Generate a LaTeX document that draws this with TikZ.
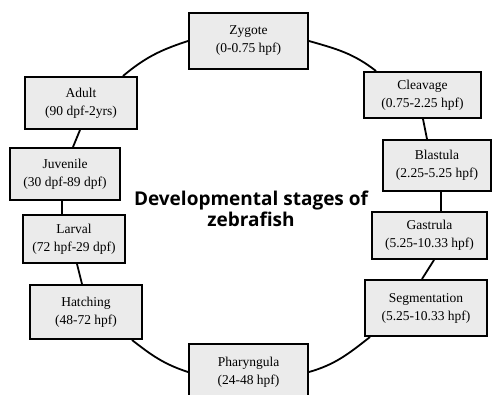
\documentclass[tikz,border=0pt]{standalone}
\usepackage{fontspec}
\setmainfont{Liberation Serif}
\newfontfamily\titlefont{Open Sans}
\begin{document}
\begin{tikzpicture}[x=1pt,y=1pt,
  stage/.style={draw=black, line width=2pt, fill=black!8, inner sep=0pt,
    align=center, font=\fontsize{13.5}{18}\selectfont},
  link/.style={draw=black, line width=1.8pt}]
\useasboundingbox (0,0) rectangle (497,394);
\clip (0,0) rectangle (497,394);
\fill[white] (0,0) rectangle (497,394);
% stages
\node[stage, minimum width=119pt, minimum height=56pt] (zyg) at (248.5,353) {Zygote\\(0-0.75 hpf)};
\node[stage, minimum width=117pt, minimum height=46pt] (cle) at (422.5,299) {Cleavage\\(0.75-2.25 hpf)};
\node[stage, minimum width=108pt, minimum height=51pt] (bla) at (437,228.5) {Blastula\\(2.25-5.25 hpf)};
\node[stage, minimum width=115pt, minimum height=47pt] (gas) at (429.5,158.5) {Gastrula\\(5.25-10.33 hpf)};
\node[stage, minimum width=122pt, minimum height=56pt] (seg) at (426,86) {Segmentation\\(5.25-10.33 hpf)};
\node[stage, minimum width=119pt, minimum height=56pt] (pha) at (248.5,22) {Pharyngula\\(24-48 hpf)};
\node[stage, minimum width=112pt, minimum height=54pt] (hat) at (86,82) {Hatching\\(48-72 hpf)};
\node[stage, minimum width=102pt, minimum height=48pt] (lar) at (74,155) {Larval\\(72 hpf-29 dpf)};
\node[stage, minimum width=110pt, minimum height=52pt] (juv) at (65,220) {Juvenile\\(30 dpf-89 dpf)};
\node[stage, minimum width=112pt, minimum height=52pt] (adu) at (81,291) {Adult\\(90 dpf-2yrs)};
% title
\node[align=center, font=\titlefont\bfseries\fontsize{19}{21}\selectfont, anchor=center] (title) at (251,185) {Developmental stages of\\zebrafish};
% connectors
\draw[link] (zyg.west) to[out=198,in=40] ([xshift=42pt]adu.north);
\draw[link] (zyg.east) to[out=-16,in=142] ([xshift=-46.5pt]cle.north);
\draw[link] ([xshift=0.5pt]cle.south) -- ([xshift=-10pt]bla.north);
\draw[link] ([xshift=4pt]bla.south) -- ([xshift=11.5pt]gas.north);
\draw[link] ([xshift=4.5pt]gas.south) -- ([xshift=-4pt]seg.north);
\draw[link] ([xshift=-56pt]seg.south) to[out=218,in=16] (pha.east);
\draw[link] (pha.west) to[out=162,in=-38] ([xshift=46pt]hat.south);
\draw[link] ([xshift=-4pt]hat.north) -- ([xshift=3pt]lar.south);
\draw[link] ([xshift=-12pt]lar.north) -- ([xshift=-3pt]juv.south);
\draw[link] ([xshift=8pt]juv.north) -- ([xshift=-1pt]adu.south);
\end{tikzpicture}
\end{document}
